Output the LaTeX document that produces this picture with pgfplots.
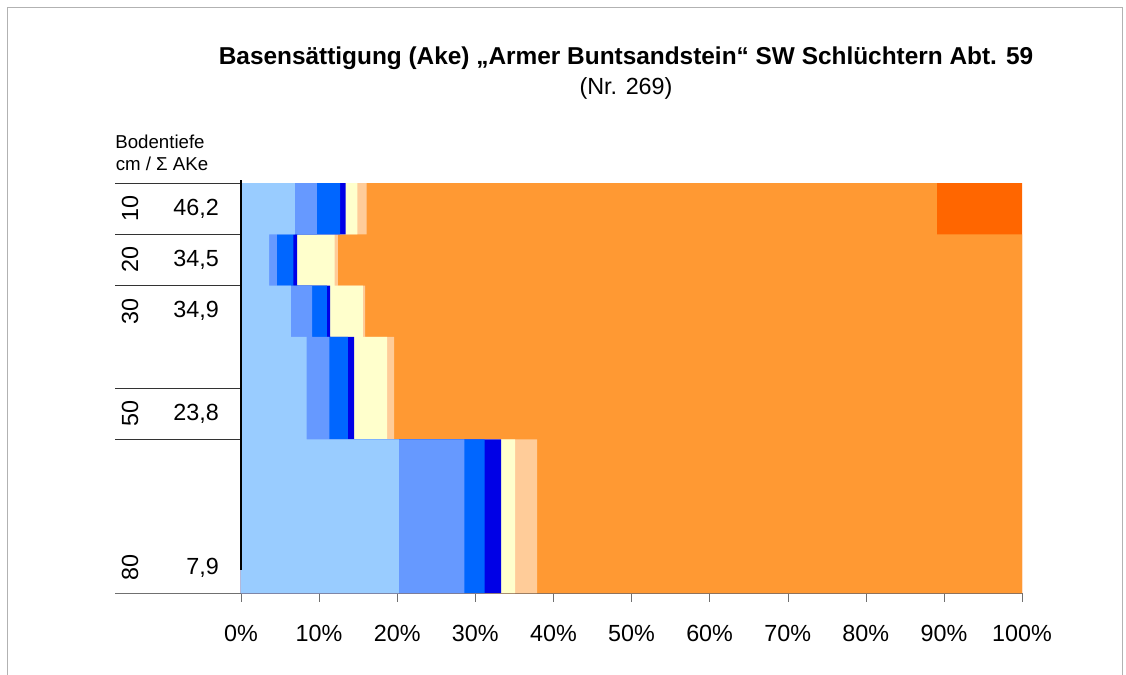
\documentclass[border=0pt]{standalone}
\usepackage{fontspec}
\setmainfont{Liberation Sans}
\usepackage{pgfplots}
\pgfplotsset{compat=1.18}

\definecolor{lblue}{HTML}{99CCFF}
\definecolor{mblue}{HTML}{6699FF}
\definecolor{bblue}{HTML}{0066FF}
\definecolor{dblue}{HTML}{0000E6}
\definecolor{cream}{HTML}{FFFFCC}
\definecolor{peach}{HTML}{FFCC99}
\definecolor{orng}{HTML}{FF9933}
\definecolor{dorng}{HTML}{FF6600}
\definecolor{axgray}{HTML}{707070}

\newcommand{\lbl}{\fontsize{17.5}{20}\selectfont}

\begin{document}
\begin{tikzpicture}
% page in pixel units, the plot area's lower left corner (241,593) at the origin
\begin{scope}[x=0.75pt, y=-0.75pt, shift={(-241,-593)}]
  \useasboundingbox (0,0) rectangle (1126,674);
  \draw[gray!60] (7,690) -- (7,7) -- (1122,7) -- (1122,690);
  \node[font=\bfseries\fontsize{18.3}{22}\selectfont] at (626,58) {Basensättigung (Ake) „Armer Buntsandstein“ SW Schlüchtern Abt. 59};
  \node[font=\lbl] at (626,88) {(Nr. 269)};
  \node[font=\fontsize{14}{16}\selectfont] at (160,142) {Bodentiefe};
  \node[font=\fontsize{14}{16}\selectfont] at (162,164) {cm / Σ AKe};
\end{scope}

\begin{axis}[
    at={(0,0)}, anchor=south west,
    scale only axis,
    width=585.75pt, height=307.5pt,
    xmin=0, xmax=100,
    ymin=-80, ymax=0,
    clip=false,
    axis x line=bottom,
    axis y line=none,
    axis line style={-, axgray},
    xtick={0,10,...,100},
    xticklabels={0\%,10\%,20\%,30\%,40\%,50\%,60\%,70\%,80\%,90\%,100\%},
    ytick=\empty,
    tick style={axgray},
    tick align=outside,
    major tick length=6.5pt,
    xticklabel style={font=\lbl, yshift=-14pt},
  ]

  % each region runs from 0% to the cumulative share of the layer (depth 0-10-20-30-50-80 cm)
  \addplot[draw=none, fill=dorng] coordinates {
    (100,0) (100,-10) (100,-10) (100,-20) (100,-20) (100,-30) (100,-30) (100,-50) (100,-50) (100,-80) (0,-80) (0,0)} --cycle;
  \addplot[draw=none, fill=orng] coordinates {
    (89.1,0) (89.1,-10) (100,-10) (100,-20) (100,-20) (100,-30) (100,-30) (100,-50) (100,-50) (100,-80) (0,-80) (0,0)} --cycle;
  \addplot[draw=none, fill=peach] coordinates {
    (16.1,0) (16.1,-10) (12.4,-10) (12.4,-20) (15.9,-20) (15.9,-30) (19.6,-30) (19.6,-50) (37.9,-50) (37.9,-80) (0,-80) (0,0)} --cycle;
  \addplot[draw=none, fill=cream] coordinates {
    (14.9,0) (14.9,-10) (12.0,-10) (12.0,-20) (15.6,-20) (15.6,-30) (18.7,-30) (18.7,-50) (35.1,-50) (35.1,-80) (0,-80) (0,0)} --cycle;
  \addplot[draw=none, fill=dblue] coordinates {
    (13.4,0) (13.4,-10) (7.2,-10) (7.2,-20) (11.4,-20) (11.4,-30) (14.5,-30) (14.5,-50) (33.3,-50) (33.3,-80) (0,-80) (0,0)} --cycle;
  \addplot[draw=none, fill=bblue] coordinates {
    (12.7,0) (12.7,-10) (6.7,-10) (6.7,-20) (11.0,-20) (11.0,-30) (13.7,-30) (13.7,-50) (31.2,-50) (31.2,-80) (0,-80) (0,0)} --cycle;
  \addplot[draw=none, fill=mblue] coordinates {
    (9.7,0) (9.7,-10) (4.6,-10) (4.6,-20) (9.1,-20) (9.1,-30) (11.3,-30) (11.3,-50) (28.6,-50) (28.6,-80) (0,-80) (0,0)} --cycle;
  \addplot[draw=none, fill=lblue] coordinates {
    (6.9,0) (6.9,-10) (3.6,-10) (3.6,-20) (6.4,-20) (6.4,-30) (8.4,-30) (8.4,-50) (20.2,-50) (20.2,-80) (0,-80) (0,0)} --cycle;

  % left table: depth and sum of exchangeable cations
  \draw[black!80] (axis cs:-16.1,0) -- (axis cs:0,0);
  \draw[black!80] (axis cs:-16.1,-10) -- (axis cs:0,-10);
  \draw[black!80] (axis cs:-16.1,-20) -- (axis cs:0,-20);
  \draw[black!80] (axis cs:-16.1,-40) -- (axis cs:0,-40);
  \draw[black!80] (axis cs:-16.1,-50) -- (axis cs:0,-50);
  \draw[axgray] (axis cs:-16.1,-80) -- (axis cs:0,-80);
  \draw[black, line width=1.6pt] (axis cs:0,0.5) -- (axis cs:0,-75.5);

  \node[font=\lbl, rotate=90, inner sep=0pt] at (axis cs:-14.2,-5) {10};
  \node[font=\lbl, rotate=90, inner sep=0pt] at (axis cs:-14.2,-15) {20};
  \node[font=\lbl, rotate=90, inner sep=0pt] at (axis cs:-14.2,-25) {30};
  \node[font=\lbl, rotate=90, inner sep=0pt] at (axis cs:-14.2,-45) {50};
  \node[font=\lbl, rotate=90, inner sep=0pt] at (axis cs:-14.2,-75) {80};
  \node[font=\lbl, anchor=east, inner sep=0pt] at (axis cs:-2.8,-5) {46,2};
  \node[font=\lbl, anchor=east, inner sep=0pt] at (axis cs:-2.8,-15) {34,5};
  \node[font=\lbl, anchor=east, inner sep=0pt] at (axis cs:-2.8,-25) {34,9};
  \node[font=\lbl, anchor=east, inner sep=0pt] at (axis cs:-2.8,-45) {23,8};
  \node[font=\lbl, anchor=east, inner sep=0pt] at (axis cs:-2.8,-75) {7,9};
\end{axis}
\end{tikzpicture}
\end{document}
